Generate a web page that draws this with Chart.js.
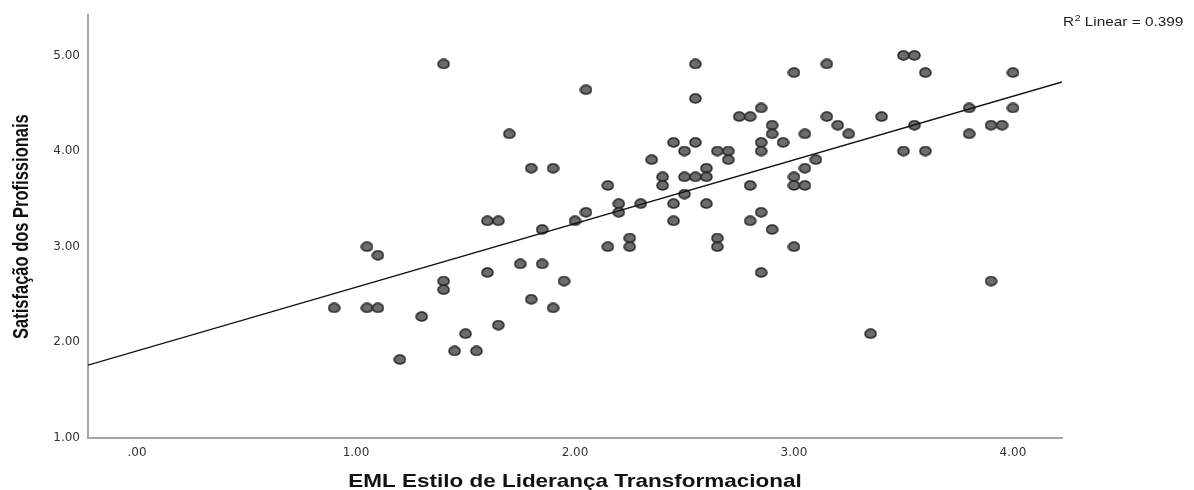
<!DOCTYPE html>
<html>
<head>
<meta charset="utf-8">
<script src="https://cdn.jsdelivr.net/npm/chart.js@4.4.1/dist/chart.umd.min.js"></script>
<style>
  html, body { margin: 0; padding: 0; background: #ffffff; }
  #wrap { width: 1194px; height: 490px; }
</style>
</head>
<body>
<div id="wrap"><canvas id="chart" width="1194" height="490"></canvas></div>
<script>
// EML transformational leadership score (x) vs. professionals' satisfaction (y)
const emlScores = [
  1.40, 1.70, 1.80, 1.90, 2.05, 2.55, 2.55, 3.00, 2.85, 2.75,
  2.80, 2.90, 2.90, 2.95, 2.85, 2.85, 2.45, 2.55, 2.50, 2.65,
  2.70, 2.70, 2.35, 2.60, 2.40, 2.50, 2.55, 2.60, 2.40, 2.15,
  2.80, 3.00, 3.00, 2.50, 2.20, 2.30, 2.45, 2.60, 2.05, 2.85,
  3.15, 3.50, 3.55, 3.60, 4.00, 3.15, 3.20, 3.25, 3.05, 3.40,
  3.55, 3.80, 4.00, 3.80, 3.90, 3.95, 3.50, 3.60, 3.10, 3.05,
  3.05, 1.60, 1.65, 1.85, 1.05, 1.10, 1.75, 1.85, 1.60, 1.40,
  1.40, 1.95, 1.80, 0.90, 1.05, 1.10, 1.90, 1.30, 1.65, 1.50,
  1.45, 1.55, 1.20, 2.20, 2.00, 2.45, 2.80, 2.90, 2.25, 2.25,
  2.15, 2.65, 2.65, 3.00, 2.85, 3.90, 3.35
];
const satisfactionScores = [
  4.91, 4.18, 3.82, 3.82, 4.64, 4.91, 4.55, 4.82, 4.45, 4.36,
  4.36, 4.27, 4.18, 4.09, 4.09, 4.00, 4.09, 4.09, 4.00, 4.00,
  4.00, 3.91, 3.91, 3.82, 3.73, 3.73, 3.73, 3.73, 3.64, 3.64,
  3.64, 3.73, 3.64, 3.55, 3.45, 3.45, 3.45, 3.45, 3.36, 3.36,
  4.91, 5.00, 5.00, 4.82, 4.82, 4.36, 4.27, 4.18, 4.18, 4.36,
  4.27, 4.45, 4.45, 4.18, 4.27, 4.27, 4.00, 4.00, 3.91, 3.82,
  3.64, 3.27, 3.27, 3.18, 3.00, 2.91, 2.82, 2.82, 2.73, 2.64,
  2.55, 2.64, 2.45, 2.36, 2.36, 2.36, 2.36, 2.27, 2.18, 2.09,
  1.91, 1.91, 1.82, 3.36, 3.27, 3.27, 3.27, 3.18, 3.09, 3.00,
  3.00, 3.09, 3.00, 3.00, 2.73, 2.64, 2.09
];
const xTicks = [0, 1, 2, 3, 4];
const yTicks = [1, 2, 3, 4, 5];
const xRange = [-0.224, 4.224];
const yRange = [1, 5.42];
const xTitle = 'EML Estilo de Liderança Transformacional';
const yTitle = 'Satisfação dos Profissionais';
const rSquaredLabel = '0.399';

// Ordinary least squares fit of satisfaction on EML score
function linearFit(xs, ys) {
  const n = xs.length;
  const mx = xs.reduce((a, b) => a + b, 0) / n;
  const my = ys.reduce((a, b) => a + b, 0) / n;
  let sxy = 0, sxx = 0;
  for (let i = 0; i < n; i++) {
    sxy += (xs[i] - mx) * (ys[i] - my);
    sxx += (xs[i] - mx) * (xs[i] - mx);
  }
  const slope = sxy / sxx;
  return { slope, intercept: my - slope * mx };
}
const fit = linearFit(emlScores, satisfactionScores);
const fitLine = xRange.map(x => ({ x, y: fit.intercept + fit.slope * x }));

const points = emlScores.map((x, i) => ({ x, y: satisfactionScores[i] }));

// Slightly oval grey marker with a dark rim
function ovalMarker(w, h) {
  const c = document.createElement('canvas');
  c.width = w + 2; c.height = h + 2;
  const g = c.getContext('2d');
  g.beginPath();
  g.ellipse(c.width / 2, c.height / 2, w / 2, h / 2, 0, 0, Math.PI * 2);
  g.fillStyle = '#6c6c6c';
  g.fill();
  g.lineWidth = 1.5;
  g.strokeStyle = '#262626';
  g.stroke();
  return c;
}
const marker = ovalMarker(11, 9);

const SANS = '"Liberation Sans", Arial, sans-serif';

// Axis titles and the fit note, drawn with a slight horizontal widening
const chartText = {
  id: 'chartText',
  afterDraw(chart) {
    const ctx = chart.ctx;
    const area = chart.chartArea;
    ctx.save();
    ctx.fillStyle = '#111111';
    ctx.textBaseline = 'alphabetic';

    // x-axis title
    ctx.save();
    ctx.translate((area.left + area.right) / 2, 486.5);
    ctx.scale(1.215, 1);
    ctx.textAlign = 'center';
    ctx.font = 'bold 18.5px ' + SANS;
    ctx.fillText(xTitle, 0, 0);
    ctx.restore();

    // y-axis title
    ctx.save();
    ctx.translate(28, (area.top + area.bottom) / 2);
    ctx.rotate(-Math.PI / 2);
    ctx.scale(1, 1.3);
    ctx.textAlign = 'center';
    ctx.font = 'bold 16.5px ' + SANS;
    ctx.fillText(yTitle, 0, 0);
    ctx.restore();

    // R² note
    ctx.save();
    ctx.fillStyle = '#222222';
    ctx.translate(area.right + 1, 26);
    ctx.scale(1.18, 1);
    ctx.textAlign = 'left';
    let x = 0;
    ctx.font = '13px ' + SANS;
    ctx.fillText('R', x, 0);
    x += ctx.measureText('R').width + 0.5;
    ctx.font = '9px ' + SANS;
    ctx.fillText('2', x, -5);
    x += ctx.measureText('2').width;
    ctx.font = '13px ' + SANS;
    ctx.fillText(' Linear = ' + rSquaredLabel, x, 0);
    ctx.restore();

    ctx.restore();
  }
};

const tickFont = { family: '"DejaVu Sans", sans-serif', size: 12 };

new Chart(document.getElementById('chart'), {
  type: 'scatter',
  data: {
    datasets: [
      {
        label: 'Satisfação',
        data: points,
        pointStyle: marker,
        pointRadius: 5,
        order: 2
      },
      {
        type: 'line',
        label: 'Linear',
        data: fitLine,
        borderColor: '#111111',
        borderWidth: 1.3,
        pointRadius: 0,
        fill: false,
        order: 1
      }
    ]
  },
  options: {
    responsive: false,
    animation: false,
    devicePixelRatio: 1,
    layout: { padding: { top: 12, right: 132, left: 0, bottom: 0 } },
    plugins: {
      legend: { display: false },
      tooltip: { enabled: false }
    },
    scales: {
      x: {
        type: 'linear',
        min: xRange[0],
        max: xRange[1],
        afterFit(scale) { scale.height = 52; },
        afterBuildTicks(scale) { scale.ticks = xTicks.map(v => ({ value: v })); },
        grid: { display: false, drawTicks: false },
        border: { display: true, color: '#a6a6a6', width: 2 },
        ticks: {
          padding: 8,
          color: '#333333',
          font: tickFont,
          maxRotation: 0,
          callback: v => v === 0 ? '.00' : v.toFixed(2)
        },
        title: { display: false }
      },
      y: {
        type: 'linear',
        min: yRange[0],
        max: yRange[1],
        afterFit(scale) { scale.width = 88; },
        afterBuildTicks(scale) { scale.ticks = yTicks.map(v => ({ value: v })); },
        grid: { display: false, drawTicks: false },
        border: { display: true, color: '#a6a6a6', width: 2 },
        ticks: {
          padding: 8,
          color: '#333333',
          font: tickFont,
          callback: v => v.toFixed(2)
        },
        title: { display: false }
      }
    }
  },
  plugins: [chartText]
});
</script>
</body>
</html>
